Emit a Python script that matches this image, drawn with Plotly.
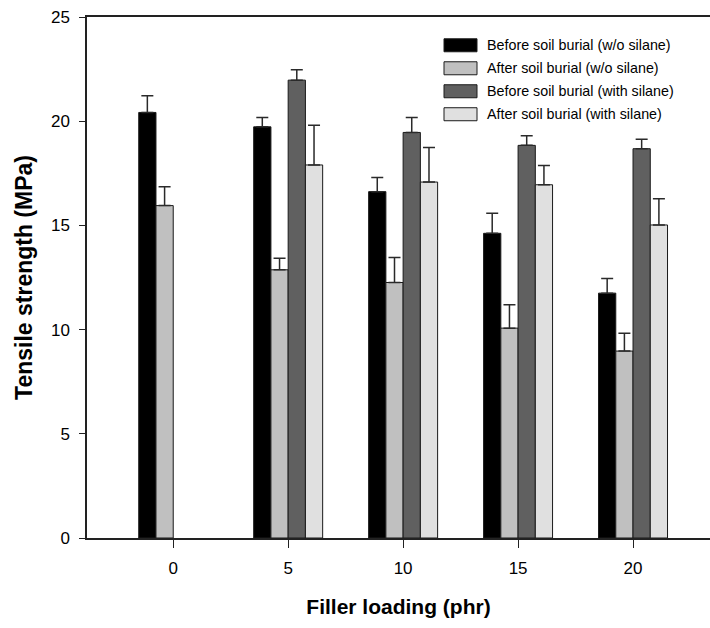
import plotly.graph_objects as go

# ---- data ----
filler = [0, 5, 10, 15, 20]
series_names = [
    "Before soil burial (w/o silane)",
    "After soil burial (w/o silane)",
    "Before soil burial (with silane)",
    "After soil burial (with silane)",
]
before_wo = [20.42, 19.73, 16.62, 14.62, 11.75]
before_wo_err = [0.80, 0.45, 0.68, 0.96, 0.70]
after_wo = [15.95, 12.87, 12.26, 10.07, 8.97]
after_wo_err = [0.91, 0.55, 1.20, 1.12, 0.85]
before_with = [None, 21.97, 19.46, 18.84, 18.68]
before_with_err = [None, 0.50, 0.72, 0.46, 0.45]
after_with = [None, 17.90, 17.08, 16.95, 15.02]
after_with_err = [None, 1.91, 1.66, 0.93, 1.26]
y_ticks = [0, 5, 10, 15, 20, 25]

values = [before_wo, after_wo, before_with, after_with]
errors = [before_wo_err, after_wo_err, before_with_err, after_with_err]
colors = ["#000000", "#c0c0c0", "#606060", "#e0e0e0"]

W, H = 710, 628
L, T, B = 87, 16.7, 538
R = 710
fig = go.Figure()
for name, v, e, c in zip(series_names, values, errors, colors):
    fig.add_trace(go.Bar(
        x=filler, y=v, name=name,
        marker=dict(color=c, line=dict(color="#1a1a1a", width=1)),
        error_y=dict(type="data", array=[x if x is not None else 0 for x in e],
                     arrayminus=[0] * len(e), symmetric=False,
                     color="#2a2a2a", thickness=1.5, width=6),
        showlegend=False,
    ))

# manual legend (swatch + text) in paper coordinates
def px2x(px):
    return (px - L) / (R - L)

def py2y(py):
    return (B - py) / (B - T)

shapes = []
annotations = []
rows = [45, 68, 91, 114]
for name, c, ry in zip(series_names, colors, rows):
    shapes.append(dict(type="rect", xref="paper", yref="paper",
                       x0=px2x(444), x1=px2x(477), y0=py2y(ry + 6.5), y1=py2y(ry - 6.5),
                       fillcolor=c, line=dict(color="#1a1a1a", width=1)))
    annotations.append(dict(xref="paper", yref="paper", x=px2x(485), y=py2y(ry),
                            text=name, showarrow=False, xanchor="left", yanchor="middle",
                            font=dict(family="Liberation Sans, Arial", size=14.3, color="#000")))

fig.update_layout(
    width=W, height=H,
    margin=dict(l=L, r=W - R, t=T, b=H - B),
    paper_bgcolor="white", plot_bgcolor="white",
    barmode="group", bargap=0.4, bargroupgap=0,
    shapes=shapes, annotations=annotations,
    font=dict(family="Liberation Sans, Arial", color="#000"),
)
fig.update_xaxes(
    range=[-3.75, (R - 173) / 23.0], tickvals=filler, ticktext=[str(f) for f in filler],
    showline=True, linecolor="#222", linewidth=1.5, mirror=True,
    ticks="outside", ticklen=8, tickwidth=1.2, tickcolor="#222",
    tickfont=dict(size=17), ticklabelstandoff=6,
    showgrid=False, zeroline=False,
    title=dict(text="<b>Filler loading (phr)</b>", font=dict(size=21), standoff=22),
)
fig.update_yaxes(
    range=[0, 25], tickvals=y_ticks,
    showline=True, linecolor="#222", linewidth=1.5, mirror=False,
    ticks="outside", ticklen=6, tickwidth=1.2, tickcolor="#222",
    tickfont=dict(size=17), ticklabelstandoff=6,
    showgrid=False, zeroline=False,
    title=dict(text="<b>Tensile strength (MPa)</b>", font=dict(size=23), standoff=12),
)

fig.write_html("out.html")
